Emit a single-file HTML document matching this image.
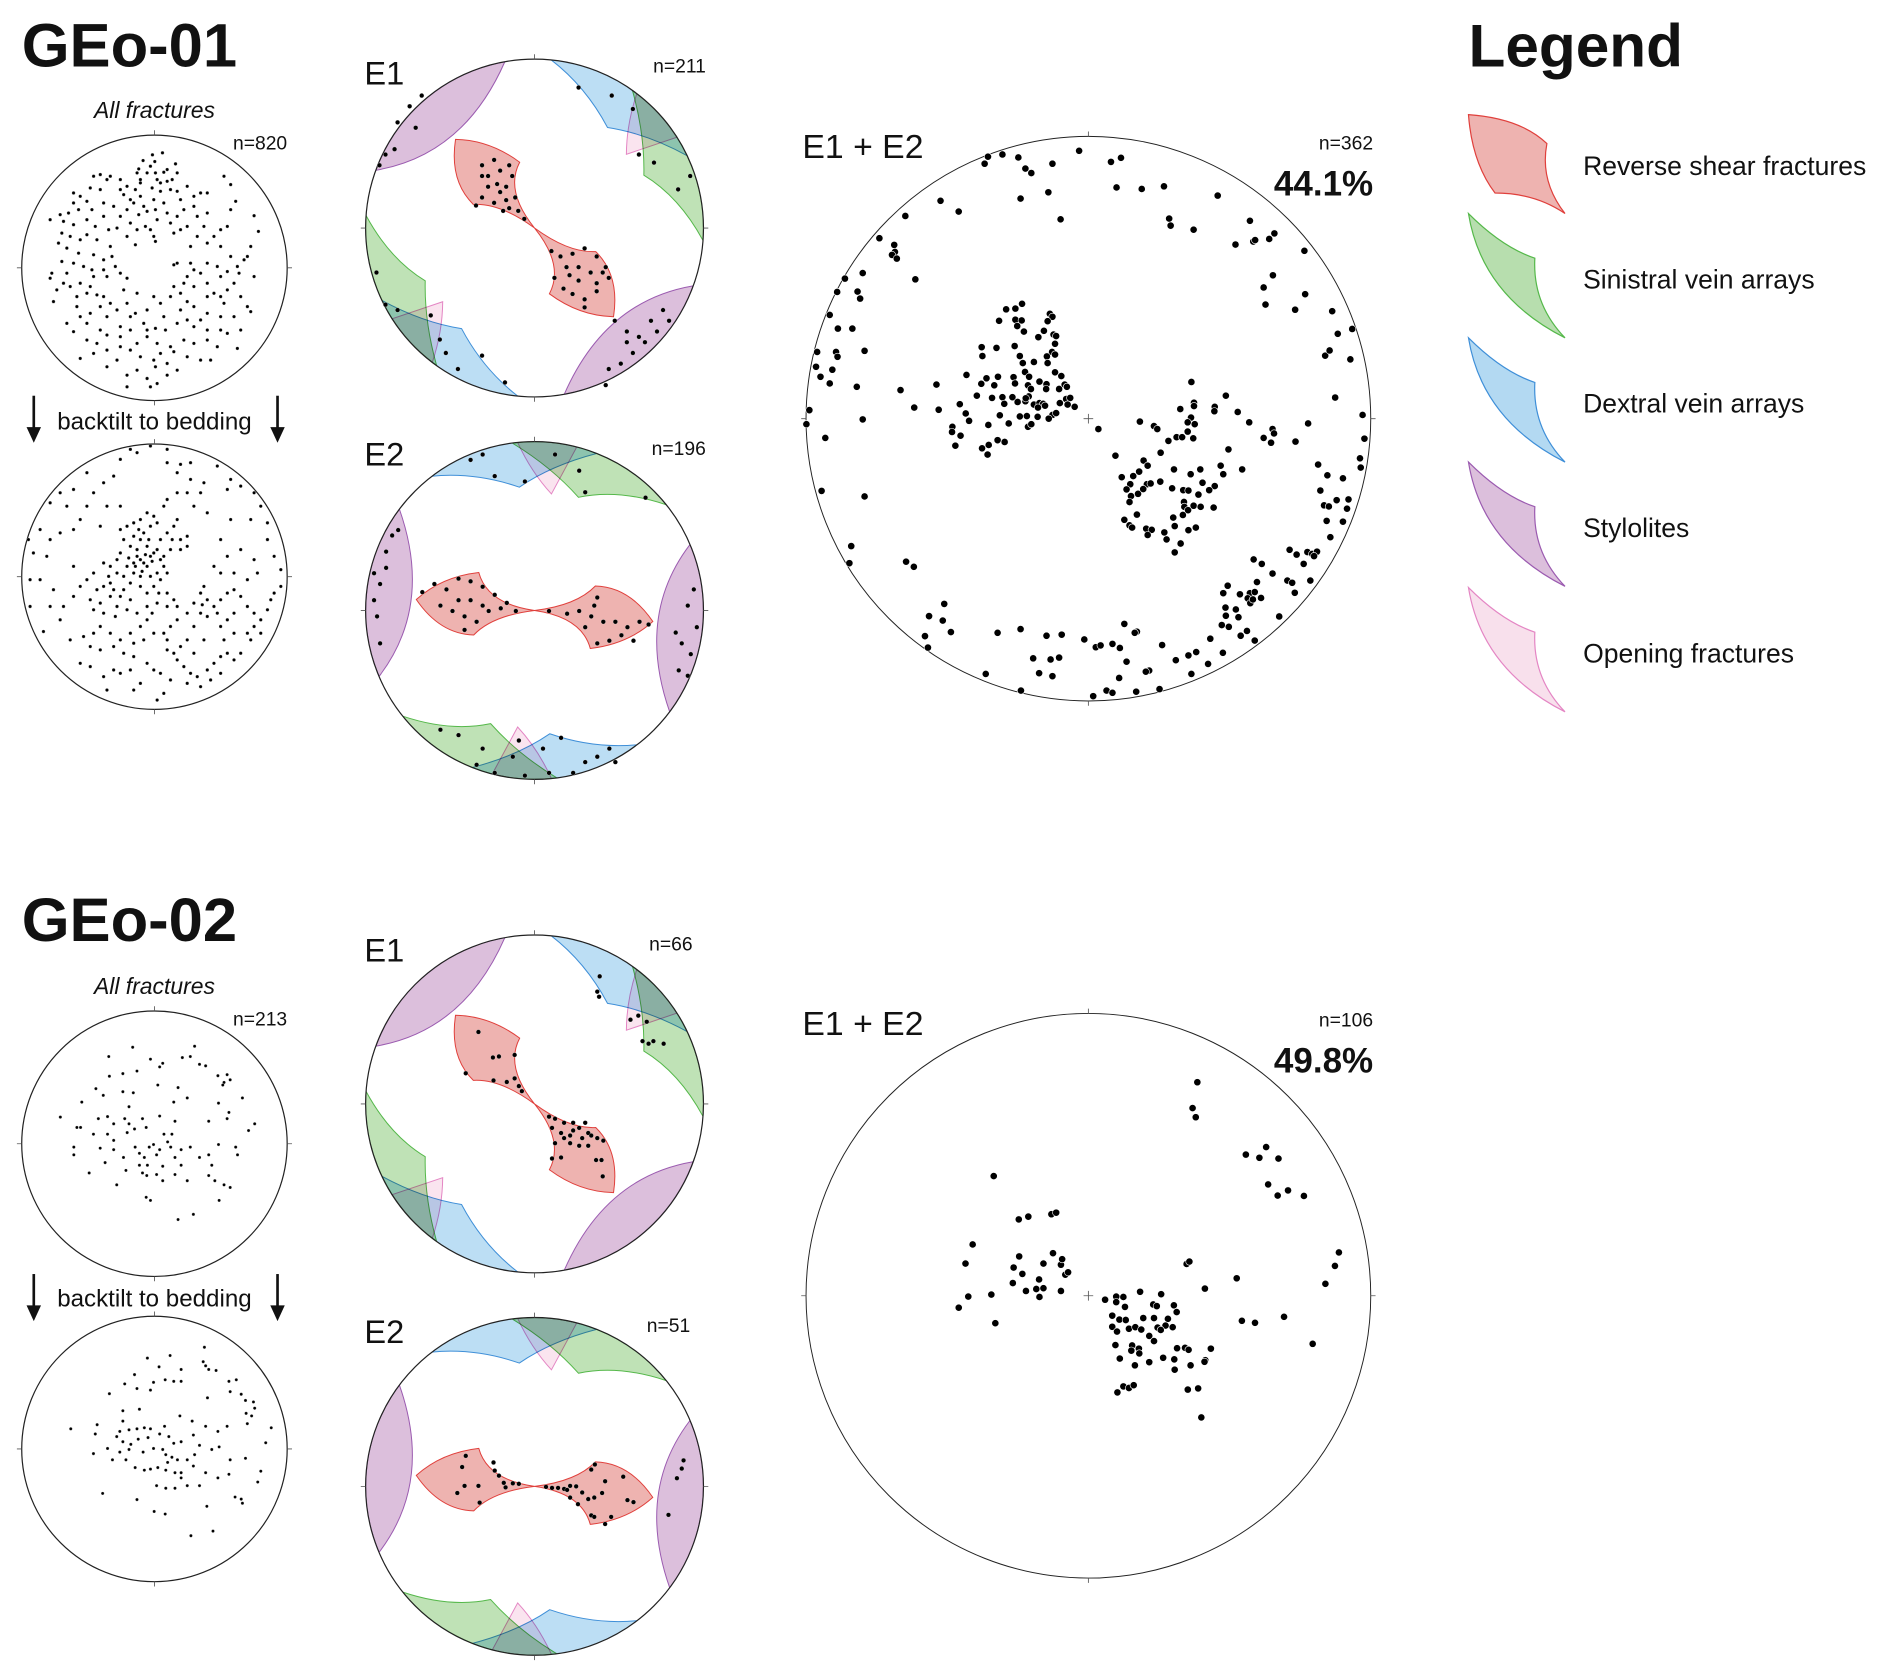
<!DOCTYPE html>
<html><head><meta charset="utf-8">
<style>
html,body{margin:0;padding:0;background:#fff;}
svg{display:block;}
text{font-family:"Liberation Sans",sans-serif;fill:#111;}
.blend{mix-blend-mode:multiply;}
</style></head>
<body>
<svg id="fig" xmlns="http://www.w3.org/2000/svg" width="1892" height="1677" viewBox="0 0 1568 1390" preserveAspectRatio="none">
<defs>
 <clipPath id="unitclip"><circle cx="0" cy="0" r="1"/></clipPath>
</defs>

<text x="18" y="55" font-size="51" font-weight="bold">GEo-01</text>
<text x="18" y="780" font-size="51" font-weight="bold">GEo-02</text>
<text x="1217" y="55" font-size="50" font-weight="bold">Legend</text>

<text x="128" y="98" font-size="19" font-style="italic" text-anchor="middle">All fractures</text>
<text x="128" y="824" font-size="19" font-style="italic" text-anchor="middle">All fractures</text>
<text x="238" y="124" font-size="16" text-anchor="end">n=820</text>
<text x="238" y="850" font-size="16" text-anchor="end">n=213</text>

<g>
 <line x1="28" y1="328" x2="28" y2="356" stroke="#111" stroke-width="2.2"/>
 <polygon points="22,354 34,354 28,367" fill="#111"/>
 <line x1="230" y1="328" x2="230" y2="356" stroke="#111" stroke-width="2.2"/>
 <polygon points="224,354 236,354 230,367" fill="#111"/>
 <text x="128" y="356" font-size="20" text-anchor="middle">backtilt to bedding</text>
</g>
<g>
 <line x1="28" y1="1056" x2="28" y2="1084" stroke="#111" stroke-width="2.2"/>
 <polygon points="22,1082 34,1082 28,1095" fill="#111"/>
 <line x1="230" y1="1056" x2="230" y2="1084" stroke="#111" stroke-width="2.2"/>
 <polygon points="224,1082 236,1082 230,1095" fill="#111"/>
 <text x="128" y="1083" font-size="20" text-anchor="middle">backtilt to bedding</text>
</g>

<text x="302" y="70" font-size="27">E1</text>
<text x="302" y="386" font-size="27">E2</text>
<text x="302" y="797" font-size="27">E1</text>
<text x="302" y="1113" font-size="27">E2</text>
<text x="585" y="60" font-size="16" text-anchor="end">n=211</text>
<text x="585" y="377" font-size="16" text-anchor="end">n=196</text>
<text x="574" y="788" font-size="16" text-anchor="end">n=66</text>
<text x="572" y="1104" font-size="16" text-anchor="end">n=51</text>

<text x="665" y="131" font-size="28">E1 + E2</text>
<text x="665" y="858" font-size="28">E1 + E2</text>
<text x="1138" y="124" font-size="16" text-anchor="end">n=362</text>
<text x="1138" y="162" font-size="29" font-weight="bold" text-anchor="end">44.1%</text>
<text x="1138" y="851" font-size="16" text-anchor="end">n=106</text>
<text x="1138" y="889" font-size="29" font-weight="bold" text-anchor="end">49.8%</text>

<g>
 <g>
  <path d="M1217,95 Q1260,98 1282,119 Q1276,150 1297,177 Q1272,160 1239,160 Q1220,135 1217,95 Z" fill="#eeb3b0" stroke="#e0403c" stroke-width="1"/>
  <text x="1312" y="145" font-size="22">Reverse shear fractures</text>
 </g>
 <g>
  <path d="M1217,177 Q1245,205 1272,214 Q1270,252 1297,280 Q1228,245 1217,177 Z" fill="#b7deae" stroke="#55b84a" stroke-width="1"/>
  <text x="1312" y="239" font-size="22">Sinistral vein arrays</text>
 </g>
 <g transform="translate(0,103)">
  <path d="M1217,177 Q1245,205 1272,214 Q1270,252 1297,280 Q1228,245 1217,177 Z" fill="#b3d9f2" stroke="#3f8fd8" stroke-width="1"/>
  <text x="1312" y="239" font-size="22">Dextral vein arrays</text>
 </g>
 <g transform="translate(0,206)">
  <path d="M1217,177 Q1245,205 1272,214 Q1270,252 1297,280 Q1228,245 1217,177 Z" fill="#dcbfdc" stroke="#9b5bb0" stroke-width="1"/>
  <text x="1312" y="239" font-size="22">Stylolites</text>
 </g>
 <g transform="translate(0,310)">
  <path d="M1217,177 Q1245,205 1272,214 Q1270,252 1297,280 Q1228,245 1217,177 Z" fill="#f8e0ec" stroke="#e486c4" stroke-width="1"/>
  <text x="1312" y="239" font-size="22">Opening fractures</text>
 </g>
</g>

<g id="nets"></g>
</svg>

<script>
const bigNet1Points = [[752,57],[506,73],[545,67],[588,75],[497,92],[607,105],[623,117],[680,92],[838,87],[865,76],[594,186],[669,169],[853,156],[921,160],[981,153],[702,242],[378,192],[427,221],[283,233],[213,293],[253,311],[255,330],[247,338],[260,348],[310,404],[168,387],[120,402],[99,438],[154,437],[161,456],[79,500],[101,537],[140,537],[45,600],[96,600],[100,613],[173,597],[42,640],[54,667],[86,648],[79,685],[152,694],[270,703],[307,750],[24,757],[16,795],[67,832],[168,782],[57,975],[173,990],[137,1124],[132,1170],[285,1166],[306,1180],
[995,240],[999,259],[1061,270],[1126,178],[1213,246],[1174,310],[1222,302],[1227,298],[1265,295],[1279,280],[1360,327],[1275,393],[1250,426],[1255,472],[1362,444],[1335,486],[1435,490],[1450,551],[1489,538],[1416,610],[1428,596],[1484,620],[1443,723],[1517,770],[1370,793],[1522,834],[1335,842],[1510,887],[1512,912],[1397,904],[1422,933],[1464,941],[1403,974],[1413,1014],[1426,1017],[1447,1000],[1479,998],[1475,1023],[1420,1056],[1464,1058],[1430,1100],[1320,1134],[1339,1147],[1368,1140],[1381,1145],[1394,1139],[1386,1151],[1358,1172],[1274,1198],[1314,1217],[1327,1223],[1334,1250],[1376,1217],[1292,1314],[1223,1160],[1245,1172],[1232,1221],[1153,1231],[1141,1251],[1186,1254],[1213,1251],[1226,1248],[1207,1265],[1214,1278],[1243,1264],[1221,1268],[1147,1290],[1175,1295],[1182,1316],[1148,1312],[1137,1337],[1156,1342],[1205,1353],[1188,1366],[1226,1379],[1106,1374],[1140,1412],[1068,1410],[1047,1419],[1100,1442],[1013,1432],[976,1391],[1055,1469],[969,1510],[941,1460],[932,1463],[906,1517],[874,1334],[908,1355],[902,1358],[862,1399],[842,1388],[880,1436],[860,1480],[826,1514],[842,1520],[790,1529],[766,1376],[797,1397],[810,1392],[705,1363],[664,1366],[698,1425],[675,1430],[628,1427],[644,1467],[680,1475],[595,1514],[500,1469],[594,1348],[532,1358],[406,1356],[384,1325],[347,1313],[388,1280],[336,1367],[344,1398],
[555,485],[580,483],[598,470],[536,516],[580,513],[597,515],[585,530],[603,545],[673,497],[680,505],[667,517],[657,543],[683,553],[690,557],[642,560],[687,578],[679,600],[687,607],[665,612],[667,630],[592,611],[600,630],[630,627],[606,654],[578,584],[529,589],[489,587],[491,611],[448,662],[502,671],[533,667],[575,668],[579,685],[617,667],[614,690],[645,680],[664,687],[687,655],[704,665],[713,688],[719,694],[698,700],[663,700],[622,700],[616,720],[607,733],[608,725],[630,742],[645,738],[655,740],[660,745],[641,750],[700,738],[717,727],[728,724],[740,748],[721,742],[488,686],[523,690],[476,718],[517,724],[545,722],[572,722],[550,740],[586,735],[430,741],[446,766],[455,786],[538,771],[592,774],[611,773],[640,775],[614,802],[623,795],[680,770],[690,765],[670,780],[507,797],[562,793],[410,802],[409,816],[432,826],[418,853],[490,860],[508,851],[532,838],[551,843],[505,877],[373,756],[367,688],[804,808],
[1055,681],[1148,718],[1025,754],[1062,737],[1062,746],[1118,748],[1117,760],[1180,762],[1211,790],[1054,777],[1045,790],[1064,795],[1060,833],[1045,815],[1015,830],[1030,830],[993,840],[972,872],[954,800],[963,808],[916,788],[1155,863],[1134,907],[1192,917],[1141,930],[1079,917],[1053,930],[1085,953],[1008,917],[1003,968],[971,950],[1033,973],[1047,974],[1074,985],[1118,962],[1103,973],[1035,1005],[1036,1018],[1046,1027],[1061,1015],[1080,1018],[1115,1020],[1032,1040],[1006,1047],[1010,1070],[1047,1081],[1067,1074],[982,1087],[988,1106],[1026,1117],[1010,1141],[926,893],[937,907],[914,923],[898,935],[867,938],[890,957],[935,957],[945,955],[880,971],[911,983],[925,970],[892,989],[888,1005],[908,1039],[874,1053],[888,1068],[895,1074],[933,1077],[948,1080],[937,1094],[850,880],[1250,832],[1270,845],[1274,808],[1278,820],[1336,842]];
const bigNet1Frame = [777,780,762,762];

const bigNet2Points = [[1052,235],[1040,300],[1048,323],[1174,417],[1208,425],[1225,398],[1256,427],[1230,492],[1254,520],[1280,507],[1320,521],[1408,663],[1398,697],[1374,742],[1151,728],[1071,754],[1025,692],[1032,686],[1164,835],[1197,840],[1270,825],[1342,893],
[540,471],[603,580],[627,573],[685,567],[697,563],[487,643],[469,691],[476,774],[452,802],[534,769],[544,841],[604,673],[590,701],[612,717],[588,740],[621,760],[654,731],[647,755],[665,691],[689,665],[709,694],[712,680],[720,719],[727,713],[709,760],[665,753],[655,775],
[820,782],[848,774],[866,775],[848,788],[870,800],[908,762],[961,768],[941,794],[950,798],[993,796],[1000,813],[838,822],[856,832],[872,833],[880,855],[838,850],[850,862],[896,851],[911,857],[916,828],[943,828],[978,830],[972,847],[952,852],[960,858],[990,851],[931,873],[943,886],[846,896],[888,897],[886,910],[905,905],[906,917],[857,930],[895,947],[931,939],[966,928],[994,932],[995,958],[1001,904],[1021,903],[1030,908],[1035,947],[1072,934],[1086,905],[1070,938],[851,1015],[866,1000],[880,1004],[892,997],[1028,1008],[1054,1005],[1062,1078]];
const bigNet2Frame = [778,772,710,710];

const allNet1Points = [[426,70],[396,76],[403,96],[368,93],[355,118],[380,130],[350,130],[405,130],[430,128],[465,103],[470,130],[455,150],[440,155],[410,150],[420,160],[395,175],[360,160],[345,180],[320,170],[300,180],[310,195],[330,210],[360,200],[370,230],[380,245],[355,255],[340,220],[420,185],[450,180],[470,185],[480,210],[490,240],[470,260],[440,250],[430,220],[400,210],[405,240],[410,270],[390,300],[400,320],[405,335],[375,290],[350,300],[330,280],[300,260],[290,295],[320,320],[345,345],[300,150],[270,140],[240,135],[220,140],[260,150],[210,175],[160,190],[180,200],[200,215],[240,180],[250,220],[215,240],[175,240],[145,250],[120,255],[90,270],[130,275],[160,285],[200,270],[225,290],[250,260],[265,300],[200,315],[150,320],[125,310],[115,340],[140,355],[175,370],[220,375],[250,390],[275,380],[285,410],[250,420],[215,420],[190,410],[160,400],[125,395],[95,430],[130,460],[150,470],[90,445],[180,460],[220,440],[260,440],[300,430],[320,445],[100,515],[170,500],[200,490],[230,495],[270,520],[290,540],[320,520],[350,490],[345,550],[380,540],[400,500],[420,520],[430,560],[450,500],[460,470],[490,460],[500,440],[520,420],[510,400],[470,400],[460,405],[540,430],[560,460],[580,490],[600,500],[620,480],[640,460],[655,430],[650,410],[590,410],[560,400],[620,425],[700,440],[690,545],[680,530],[640,560],[600,560],[560,550],[520,530],[500,515],[480,490],[140,580],[180,560],[210,550],[240,530],[260,560],[300,590],[330,600],[370,580],[405,595],[435,600],[470,580],[500,570],[520,590],[540,570],[560,600],[600,600],[620,610],[660,600],[160,605],[200,630],[230,640],[260,615],[300,620],[350,640],[380,620],[410,640],[450,650],[490,630],[520,640],[560,630],[590,650],[650,655],[180,685],[220,670],[260,660],[290,690],[330,660],[360,680],[400,690],[420,670],[460,665],[500,680],[540,690],[570,690],[260,710],[320,735],[350,720],[380,745],[405,710],[410,760],[440,735],[390,770],[320,770],[610,140],[630,165],[645,215],[700,258],[713,305],[690,350],[670,390],[680,380],[600,300],[580,320],[620,290],[550,290],[530,320],[540,190],[560,190],[520,230],[560,250],[500,290],[480,300],[460,310],[530,260],[630,240],[250,500],[210,470],[310,480],[330,560],[440,700],[470,720],[480,540],[520,470],[140,430],[110,480],[270,350],[230,330],[180,330],[450,280],[510,350],[560,340],[600,350],[630,380],[600,440],[660,500],[610,520],[560,500],[380,600],[300,650],[240,600],[200,580],[170,530],[360,150],[390,110],[320,240],[280,230],[160,220],[440,120],[500,170],[520,200]];
const allNet1Frame = [402,414,397,397];

const allNet2Points = [[370,370],[360,360],[380,380],[350,350],[340,370],[390,350],[400,340],[410,330],[380,320],[360,300],[340,290],[370,280],[390,260],[410,250],[400,230],[380,220],[360,240],[340,250],[320,260],[300,270],[310,300],[330,320],[300,340],[290,360],[270,380],[250,370],[320,380],[340,400],[360,410],[390,410],[410,400],[430,380],[430,350],[420,300],[440,280],[450,330],[460,260],[470,240],[480,300],[500,290],[500,320],[480,330],[290,400],[270,430],[250,440],[280,450],[310,450],[330,430],[360,440],[380,460],[400,440],[420,420],[440,460],[460,480],[470,500],[440,500],[410,490],[380,500],[350,520],[330,480],[300,470],[270,470],[240,490],[220,510],[250,520],[290,500],[320,510],[380,540],[360,560],[330,580],[300,600],[270,580],[240,560],[220,580],[190,590],[210,620],[240,630],[280,620],[310,640],[340,610],[370,600],[400,580],[430,580],[450,560],[470,540],[500,520],[520,490],[540,460],[550,440],[560,480],[580,500],[600,480],[620,460],[640,450],[660,470],[680,500],[700,520],[720,540],[700,560],[680,580],[720,580],[740,510],[750,480],[760,460],[780,440],[640,520],[620,540],[600,560],[560,530],[540,520],[520,560],[500,600],[480,620],[460,640],[440,630],[470,660],[490,680],[510,700],[530,710],[500,730],[560,690],[580,670],[600,650],[620,640],[640,660],[660,640],[600,700],[570,720],[540,740],[450,720],[420,700],[400,690],[380,670],[340,650],[330,690],[300,700],[280,690],[250,710],[430,760],[410,780],[360,730],[340,750],[260,750],[210,680],[180,670],[150,600],[120,540],[70,575],[30,500],[90,500],[130,500],[160,470],[180,440],[200,420],[220,400],[100,450],[60,420],[30,420],[80,350],[40,340],[25,300],[60,270],[90,300],[120,280],[160,270],[180,240],[140,200],[120,160],[160,150],[90,190],[200,100],[220,160],[250,130],[280,110],[300,60],[330,30],[350,40],[390,20],[440,30],[440,70],[480,75],[510,70],[470,100],[510,120],[550,130],[590,80],[630,120],[660,140],[620,150],[700,160],[720,200],[690,240],[740,250],[740,300],[760,350],[700,360],[660,330],[620,350],[600,400],[640,400],[680,420],[710,400],[780,390],[580,380],[600,300],[630,240],[560,220],[520,200],[500,160],[540,160],[470,160],[440,180],[430,200],[260,200],[240,260],[300,200],[200,200],[160,380],[350,330],[375,345],[395,365],[365,395],[345,380],[325,355],[385,300],[355,270],[420,360],[440,400],[455,300],[310,410],[265,410],[230,450],[210,480],[285,530],[395,520],[415,460],[545,495],[590,520],[640,580],[690,600],[610,600],[550,600],[520,640],[440,600]];
const allNet2Frame = [402,411,397,397];

const allNet3Points = [[221,332],[322,330],[182,350],[250,355],[270,363],[302,352],[315,350],[330,365],[340,368],[205,383],[183,388],[228,378],[265,370],[360,387],[375,385],[370,400],[380,395],[368,405],[161,412],[173,425],[205,418],[222,420],[295,410],[310,430],[262,405],[138,438],[215,447],[288,438],[400,430],[361,440],[378,458],[375,470],[103,467],[130,487],[136,487],[165,470],[180,466],[190,480],[208,470],[215,480],[237,470],[265,465],[290,475],[345,475],[410,493],[420,480],[157,500],[180,500],[190,512],[212,497],[224,490],[243,487],[272,500],[278,515],[255,520],[265,530],[283,525],[260,540],[232,537],[240,545],[248,525],[125,525],[125,540],[168,527],[190,530],[206,545],[225,525],[232,560],[245,560],[270,562],[290,545],[300,530],[315,525],[330,545],[345,540],[350,560],[389,525],[392,540],[361,520],[176,555],[150,575],[195,598],[210,570],[237,575],[244,580],[260,578],[290,578],[310,590],[345,580],[355,590],[370,598],[380,603],[362,628],[243,622],[250,628],[295,665],[320,655],[285,500],[300,560],[270,590]];
const allNet3Frame = [256.5,518.5,216.5,256.5];

const allNet4Points = [[338,922],[245,943],[282,938],[264,960],[300,965],[336,950],[340,958],[345,965],[357,967],[224,975],[255,990],[274,985],[288,988],[300,988],[378,988],[390,985],[208,993],[183,1012],[228,1002],[250,1005],[380,1008],[398,1013],[405,1025],[418,1028],[420,1040],[406,1050],[415,1055],[408,1070],[343,1020],[205,1045],[232,1042],[205,1065],[163,1072],[120,1080],[200,1085],[215,1082],[228,1080],[240,1078],[250,1080],[273,1075],[298,1055],[318,1065],[340,1075],[360,1085],[375,1075],[447,1078],[438,1107],[160,1090],[195,1095],[205,1105],[218,1110],[230,1100],[246,1097],[265,1090],[280,1095],[288,1108],[300,1105],[320,1092],[157,1128],[180,1118],[200,1125],[215,1120],[238,1125],[255,1118],[270,1120],[275,1130],[285,1135],[278,1145],[294,1140],[310,1140],[322,1130],[330,1112],[350,1120],[362,1115],[380,1140],[405,1137],[188,1140],[210,1140],[225,1155],[240,1160],[250,1158],[262,1155],[275,1160],[290,1165],[300,1165],[320,1152],[340,1165],[378,1168],[360,1175],[430,1162],[425,1183],[172,1205],[228,1217],[260,1190],[275,1195],[290,1195],[300,1175],[310,1190],[330,1190],[342,1230],[388,1212],[398,1216],[400,1224],[256,1240],[274,1245],[316,1287],[352,1278]];
const allNet4Frame = [256.5,1119,216.5,257];

const e1Net1Points = [[820,300],[800,310],[810,330],[830,320],[845,310],[850,330],[840,350],[825,345],[810,350],[800,370],[790,385],[820,380],[840,375],[855,370],[845,390],[860,395],[870,410],[800,330],[830,360],[835,395],
[915,470],[930,480],[950,475],[970,465],[990,480],[1005,500],[960,500],[940,500],[920,520],[935,540],[950,550],[970,560],[990,530],[1010,520],[980,510],[960,525],[945,515],[970,575],[990,545],[1000,510],
[660,230],[690,240],[655,280],[640,290],[630,310],[700,180],[680,200],
[1020,600],[1040,620],[1060,630],[1080,600],[1100,580],[1110,600],[1050,660],[1030,680],[1010,690],[1070,640],[1090,620],[1005,720],[1040,640],
[960,165],[1015,180],[1050,205],[1060,290],[1085,305],[1125,355],[1145,330],
[625,510],[640,570],[660,580],[715,590],[730,635],[740,660],[760,690],[800,665],[838,715]];
const e1Net1Frame = [887,427,280,315];

const e2Net1Points = [[700,1105],[720,1090],[740,1100],[760,1080],[780,1085],[800,1095],[820,1110],[840,1125],[760,1120],[780,1120],[800,1130],[730,1130],[750,1140],[770,1150],[790,1160],[810,1140],[830,1135],[855,1140],[770,1175],
[990,1115],[960,1140],[980,1150],[1000,1160],[1020,1160],[1040,1170],[1060,1160],[970,1170],[990,1200],[1010,1195],[1030,1185],[1050,1195],[940,1145],[910,1140],[1075,1165],[985,1130],
[620,1070],[640,1060],[630,1090],[620,1120],[640,1030],[625,1150],[630,1200],[650,1000],[660,990],
[1150,1100],[1140,1130],[1120,1180],[1130,1200],[1145,1220],[1125,1250],[1155,1170],[1140,1260],
[800,850],[820,890],[870,900],[920,850],[960,880],[970,920],[1070,930],[780,860],
[730,1360],[760,1370],[800,1395],[790,1425],[820,1440],[850,1410],[860,1380],[900,1395],[910,1440],[930,1375],[970,1420],[990,1410],[1010,1395],[1020,1420],[950,1440],[870,1445]];
const e2Net1Frame = [886,1139,280,313];

const e1Net2Points = [[793,302],[817,352],[827,350],[853,347],[772,383],[818,397],[840,400],[853,393],[860,408],[865,418],
[910,468],[920,472],[935,480],[950,480],[970,480],[915,490],[930,500],[950,495],[960,490],[975,500],[990,510],[1000,515],[920,520],[945,520],[960,525],[975,525],[935,510],[980,505],[915,550],[930,548],[988,553],[997,553],[999,585],[965,510],[945,505],
[994,193],[990,223],[993,233],[1045,278],[1058,270],[1072,282],[1065,320],[1075,325],[1083,320],[1100,325]];
const e1Net2Frame = [886,443,280,331];

const e2Net2Points = [[772,1133],[766,1155],[818,1146],[820,1162],[827,1172],[835,1186],[850,1187],[860,1188],[838,1195],[793,1192],[770,1192],[758,1206],[795,1225],
[905,1194],[915,1196],[925,1196],[935,1198],[940,1200],[955,1193],[965,1205],[945,1215],[958,1228],[975,1218],[985,1215],[1003,1183],[986,1150],[980,1160],[998,1206],[1033,1174],[1040,1220],[1050,1224],[980,1250],[985,1253],[1003,1267],[1013,1253],[945,1192],
[1133,1142],[1130,1158],[1122,1177],[1108,1249]];
const e2Net2Frame = [886,1193,280,332];

const NS = "http://www.w3.org/2000/svg";
const root = document.getElementById('nets');
function mk(tag, attrs, parent) {
  const el = document.createElementNS(NS, tag);
  for (const k in attrs) el.setAttribute(k, attrs[k]);
  (parent || root).appendChild(el);
  return el;
}
function toUnit(p, f) { return [(p[0] - f[0]) / f[2], (p[1] - f[1]) / f[3]]; }

const redLobe = "M0,0 Q0.25,-0.03 0.36,-0.145 Q0.56,-0.14 0.70,0.065 Q0.55,0.2 0.33,0.225 Q0.28,0.04 0,0 Z";
const purpleBand = "M0.92,-0.39 A1,1 0 0 1 0.8,0.6 Q0.6,0.03 0.92,-0.39 Z";
const blueBand = "M-0.61,-0.795 A1,1 0 0 1 0.37,-0.93 Q0.1,-0.86 -0.09,-0.73 Q-0.35,-0.82 -0.61,-0.795 Z";
const greenBand = "M-0.13,-0.99 A1,1 0 0 1 0.78,-0.626 Q0.5,-0.72 0.26,-0.67 Q0.1,-0.85 -0.13,-0.99 Z";
const pinkBand = "M-0.1,-0.995 A1,1 0 0 1 0.25,-0.968 Q0.16,-0.8 0.1,-0.69 Q-0.02,-0.82 -0.1,-0.995 Z";

function drawNet(name, cx, cy, R, pts, frame, dotR, opts) {
  const g = mk('g', {});
  
  
  if (opts && opts.shapes) {
    const sg = mk('g', {transform: `translate(${cx},${cy}) scale(${R}) rotate(${opts.rot})`, 'clip-path': 'url(#unitclip)'}, g);
    
    
    [0, 180].forEach(function (a) {
      const h = mk('g', {transform: `rotate(${a})`}, sg);
      const specs = [
        [pinkBand, '#fae4ef', '#e486c4', 'opening-domain'],
        [blueBand, '#bcdef4', '#3f8fd8', 'dextral-domain'],
        [greenBand, '#bfe2b6', '#55b84a', 'sinistral-domain'],
        [purpleBand, '#dcbfdc', '#9b5bb0', 'stylolite-domain'],
        [redLobe, '#eeb3b0', '#e0403c', 'reverse-shear-domain']
      ];
      specs.forEach(function (s) {
        const p = mk('path', {d: s[0], fill: s[1], stroke: s[2], 'stroke-width': 1, 'vector-effect': 'non-scaling-stroke', class: 'blend'}, h);
        
        
      });
    });
  }
  const c = mk('circle', {cx: cx, cy: cy, r: R, fill: 'none', stroke: '#222', 'stroke-width': opts && opts.big ? 0.8 : 1}, g);
  
  
  const t = 4;
  mk('path', {d: `M${cx},${cy - R} v${-t} M${cx},${cy + R} v${t} M${cx - R},${cy} h${-t} M${cx + R},${cy} h${t}` + (opts && opts.big ? ` M${cx - 4},${cy} h8 M${cx},${cy - 4} v8` : ''), stroke: '#555', 'stroke-width': 0.7, fill: 'none'}, g);
  pts.forEach(function (p) {
    const u = toUnit(p, frame);
    const d = mk('circle', {cx: (cx + u[0] * R).toFixed(2), cy: (cy + u[1] * R).toFixed(2), r: dotR, fill: '#000', stroke: '#fff', 'stroke-width': opts && opts.big ? 0.5 : 0.2}, g);
    
    
  });
}

drawNet('geo01-all-fractures-net', 128, 222, 110, allNet1Points, allNet1Frame, 1.4, null);
drawNet('geo01-backtilted-net', 128, 478, 110, allNet2Points, allNet2Frame, 1.4, null);
drawNet('geo02-all-fractures-net', 128, 948, 110, allNet3Points, allNet3Frame, 1.3, null);
drawNet('geo02-backtilted-net', 128, 1201, 110, allNet4Points, allNet4Frame, 1.3, null);
drawNet('geo01-e1-net', 443, 189, 140, e1Net1Points, e1Net1Frame, 1.9, {shapes: true, rot: 43});
drawNet('geo01-e2-net', 443, 506, 140, e2Net1Points, e2Net1Frame, 1.9, {shapes: true, rot: 0});
drawNet('geo02-e1-net', 443, 915, 140, e1Net2Points, e1Net2Frame, 1.9, {shapes: true, rot: 43});
drawNet('geo02-e2-net', 443, 1232, 140, e2Net2Points, e2Net2Frame, 1.9, {shapes: true, rot: 0});
drawNet('geo01-combined-net', 902, 347, 234, bigNet1Points, bigNet1Frame, 3.0, {big: true});
drawNet('geo02-combined-net', 902, 1074, 234, bigNet2Points, bigNet2Frame, 3.0, {big: true});
</script>
</body></html>
